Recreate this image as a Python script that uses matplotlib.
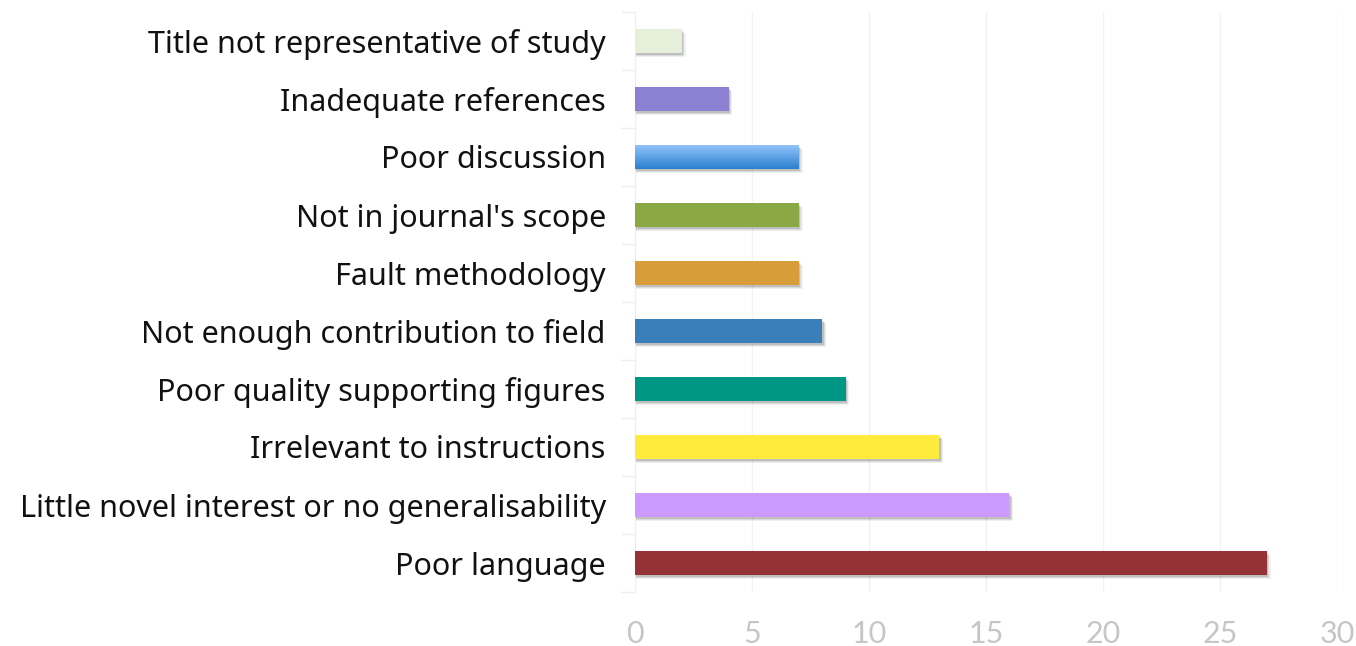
import numpy as np
import matplotlib
matplotlib.use("Agg")
from matplotlib import pyplot as plt
from matplotlib.colors import LinearSegmentedColormap

# bottom to top
categories = [
    "Poor language",
    "Little novel interest or no generalisability",
    "Irrelevant to instructions",
    "Poor quality supporting figures",
    "Not enough contribution to field",
    "Fault methodology",
    "Not in journal's scope",
    "Poor discussion",
    "Inadequate references",
    "Title not representative of study",
]
values = [27, 16, 13, 9, 8, 7, 7, 7, 4, 2]
colors = [
    "#953235", "#cc99ff", "#ffeb3b", "#009686", "#3a7fba",
    "#d89d38", "#8aa944", None, "#8b80d2", "#e6efd9",
]
x_ticks = [0, 5, 10, 15, 20, 25, 30]

plt.rcParams["font.family"] = ["Noto Sans", "DejaVu Sans"]

fig = plt.figure(figsize=(13.56, 6.46), dpi=100)
ax = fig.add_axes([635 / 1356, 1 - 592 / 646, 702 / 1356, 580 / 646])

h = 0.41
y = np.arange(len(categories))

# soft drop shadows
for dx, dy, a in [(0.16, 0.07, 0.06), (0.11, 0.05, 0.09), (0.06, 0.03, 0.12)]:
    ax.barh(y - dy, np.array(values) + dx - 0.05, height=h, left=0.05,
            color="black", alpha=a, linewidth=0, zorder=2)

for yi, v, c in zip(y, values, colors):
    if c is None:
        ax.barh(yi, v, height=h, color="none", linewidth=0, zorder=3)
        cmap = LinearSegmentedColormap.from_list("g", ["#2a80cf", "#92c3fa"])
        grad = np.linspace(0, 1, 64).reshape(-1, 1)
        ax.imshow(grad, cmap=cmap, aspect="auto", origin="lower",
                  extent=(0, v, yi - h / 2, yi + h / 2), zorder=3)
    else:
        ax.barh(yi, v, height=h, color=c, linewidth=0, zorder=3)

ax.set_xlim(0, 30)
ax.set_ylim(-0.5, len(categories) - 0.5)
ax.set_xticks(x_ticks)
ax.set_xticklabels([str(t) for t in x_ticks], family=["Lato", "DejaVu Sans"])
ax.set_yticks(y)
ax.set_yticklabels(categories)
ax.set_yticks(np.arange(-0.5, len(categories), 1), minor=True)

ax.tick_params(axis="y", which="major", length=0, pad=21, labelsize=22,
               labelcolor="#111111")
ax.tick_params(axis="y", which="minor", length=10, color="#eeeeee", width=1)
ax.tick_params(axis="x", length=0, pad=20, labelsize=22, labelcolor="#c6c6c6")

ax.grid(axis="x", color="#f2f2f2", linewidth=1, zorder=0)
ax.set_axisbelow(True)
for s in ["top", "right", "bottom"]:
    ax.spines[s].set_visible(False)
ax.spines["left"].set_color("#eeeeee")

fig.savefig("out.png", dpi=100)
